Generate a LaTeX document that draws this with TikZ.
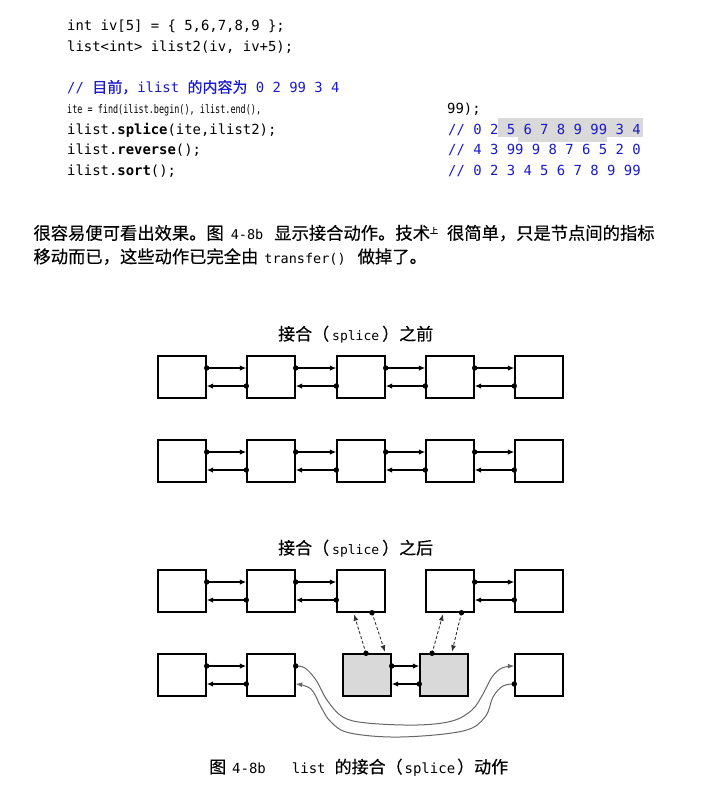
\documentclass[tikz,border=0pt]{standalone}
\usepackage{fontspec}
\usepackage{graphicx}
\setmainfont{Noto Sans CJK SC}[FakeBold=0.35]
\setmonofont{DejaVu Sans Mono}
\newfontfamily\cjk{Noto Sans CJK SC}[FakeBold=0.35]
\usetikzlibrary{arrows.meta}
\definecolor{cmtblue}{RGB}{25,25,205}
\definecolor{hlgray}{RGB}{217,217,217}

\begin{document}
\begin{tikzpicture}[
    x=1pt, y=-1pt,
    % text styles
    code/.style={anchor=base west, inner sep=0pt, font=\fontsize{13.9}{16}\ttfamily},
    cmt/.style={code, text=cmtblue},
    para/.style={anchor=base west, inner sep=0pt, font=\fontsize{17.3}{20}\selectfont},
    title/.style={anchor=west, inner sep=0pt, font=\fontsize{17}{20}\selectfont},
    % list nodes and pointers
    cell/.style={draw=black, line width=1.4pt, minimum width=48pt, minimum height=42pt, inner sep=0pt},
    moved/.style={cell, fill=black!15},
    ptr/.style={-{Latex[length=6.5pt,width=5.5pt]}, line width=1.8pt},
    jump/.style={-{Latex[length=6.5pt,width=5pt]}, line width=0.9pt, densely dashed, black!80},
    wire/.style={-{Latex[length=6.5pt,width=5pt]}, line width=1pt, black!60}
  ]

  \useasboundingbox (0,0) rectangle (717,788);

  % ---------------------------------------------------------
  % CODE LISTING
  % ---------------------------------------------------------
  \fill[hlgray] (498,118) rectangle (643,137);
  \fill[hlgray] (518,137) rectangle (607,142);

  \node[code] (l1) at (67,30.7) {int iv[5] = \{ 5,6,7,8,9 \};};
  \node[code] (l2) at (67,51.4) {list<int> ilist2(iv, iv+5);};
  \node[cmt] (l4) at (67,92.7) {// {\cjk\fontsize{15}{16}\selectfont 目前，}ilist {\cjk\fontsize{15}{16}\selectfont 的内容为} 0 2 99 3 4};
  \node[code] (l5) at (67,113.4) {\scalebox{0.61}[0.85]{ite = find(ilist.begin(), ilist.end(),}};
  \node[code] (l6) at (67,134.1) {ilist.\textbf{splice}(ite,ilist2);};
  \node[code] (l7) at (67,154.8) {ilist.\textbf{reverse}();};
  \node[code] (l8) at (67,175.5) {ilist.\textbf{sort}();};

  \node[code] (r5) at (447,113.4) {99);};
  \node[cmt] (r6) at (448,134.1) {// 0 2 5 6 7 8 9 99 3 4};
  \node[cmt] (r7) at (448,154.8) {// 4 3 99 9 8 7 6 5 2 0};
  \node[cmt] (r8) at (448,175.5) {// 0 2 3 4 5 6 7 8 9 99};

  % ---------------------------------------------------------
  % PARAGRAPH
  % ---------------------------------------------------------
  \node[para] (p1) at (33.3,239.5) {很容易便可看出效果。图\hspace{7pt}{\ttfamily\fontsize{13.5}{14}\selectfont 4-8b}\hspace{11pt}显示接合动作。技术\raisebox{6pt}{\fontsize{8}{8}\selectfont 上}\hspace{9pt}很简单，只是节点间的指标};
  \node[para] (p2) at (33.3,263) {移动而已，这些动作已完全由\hspace{6pt}{\ttfamily\fontsize{13.5}{14}\selectfont transfer()}\hspace{12pt}做掉了。};

  % ---------------------------------------------------------
  % BEFORE SPLICE
  % ---------------------------------------------------------
  \node[title] (before) at (278,334.3) {接合（\hspace{3pt}{\ttfamily\fontsize{13}{14}\selectfont splice}\hspace{3pt}）之前};

  \foreach \r/\y in {a/377, b/461, c/591}
    \foreach \x [count=\i] in {182, 271, 361, 450, 539}
      \node[cell] (\r\i) at (\x,\y) {};

  % ---------------------------------------------------------
  % AFTER SPLICE
  % ---------------------------------------------------------
  \node[title] (after) at (278,548.3) {接合（\hspace{3pt}{\ttfamily\fontsize{13}{14}\selectfont splice}\hspace{3pt}）之后};

  \node[cell] (d1) at (182,675) {};
  \node[cell] (d2) at (271,675) {};
  \node[moved] (d3) at (367,675) {};
  \node[moved] (d4) at (444,675) {};
  \node[cell] (d5) at (539,675) {};

  % next / prev pointers
  \foreach \p/\q in {a1/a2, a2/a3, a3/a4, a4/a5, b1/b2, b2/b3, b3/b4, b4/b5,
                     c1/c2, c2/c3, c4/c5, d1/d2, d3/d4} {
    \draw[ptr] ([yshift=9pt]\p.east) -- ([yshift=9pt]\q.west);
    \draw[ptr] ([yshift=-9pt]\q.west) -- ([yshift=-9pt]\p.east);
    \fill ([yshift=9pt]\p.east) circle (2.7pt) ([yshift=-9pt]\q.west) circle (2.7pt);
  }

  % relinked pointers into the moved range
  \draw[jump] ([xshift=11pt]c3.south) -- ([xshift=18pt,yshift=1.5pt]d3.north);
  \draw[jump] ([xshift=-1pt]d3.north) -- ([xshift=-7pt,yshift=-1.5pt]c3.south);
  \draw[jump] ([xshift=-12pt]d4.north) -- ([xshift=-7pt,yshift=-1.5pt]c4.south);
  \draw[jump] ([xshift=11.5pt]c4.south) -- ([xshift=8pt,yshift=1.5pt]d4.north);
  \fill ([xshift=11pt]c3.south) circle (2.7pt) ([xshift=-1pt]d3.north) circle (2.7pt)
        ([xshift=-12pt]d4.north) circle (2.7pt) ([xshift=11.5pt]c4.south) circle (2.7pt);

  % the emptied second list closes on itself
  \coordinate (d2hi) at ([yshift=9pt]d2.east);
  \coordinate (d2lo) at ([yshift=-9pt]d2.east);
  \coordinate (d5hi) at ([yshift=9pt]d5.west);
  \coordinate (d5lo) at ([yshift=-9pt]d5.west);
  \draw[wire] plot[smooth, tension=0.6] coordinates {(d2hi) (305,668) (316,680) (327,700) (343,717) (367,723) (417,725) (452,721) (472,710) (483,694) (492,677) (502,668) (d5hi)};
  \draw[wire] plot[smooth, tension=0.6] coordinates {(d5lo) (503,686) (493,697) (485,717) (463,731) (400,737) (350,733) (331,722) (321,707) (311,689) (d2lo)};
  \fill (d2hi) circle (2.7pt) (d5lo) circle (2.7pt);

  % ---------------------------------------------------------
  % CAPTION
  % ---------------------------------------------------------
  \node[title] (caption) at (209,767.3) {图\hspace{6pt}{\ttfamily\fontsize{14}{14}\selectfont 4-8b}\hspace{26pt}{\ttfamily\fontsize{14}{14}\selectfont list}\hspace{9pt}的接合（\hspace{2pt}{\ttfamily\fontsize{14}{14}\selectfont splice}\hspace{2pt}）动作};

\end{tikzpicture}
\end{document}
